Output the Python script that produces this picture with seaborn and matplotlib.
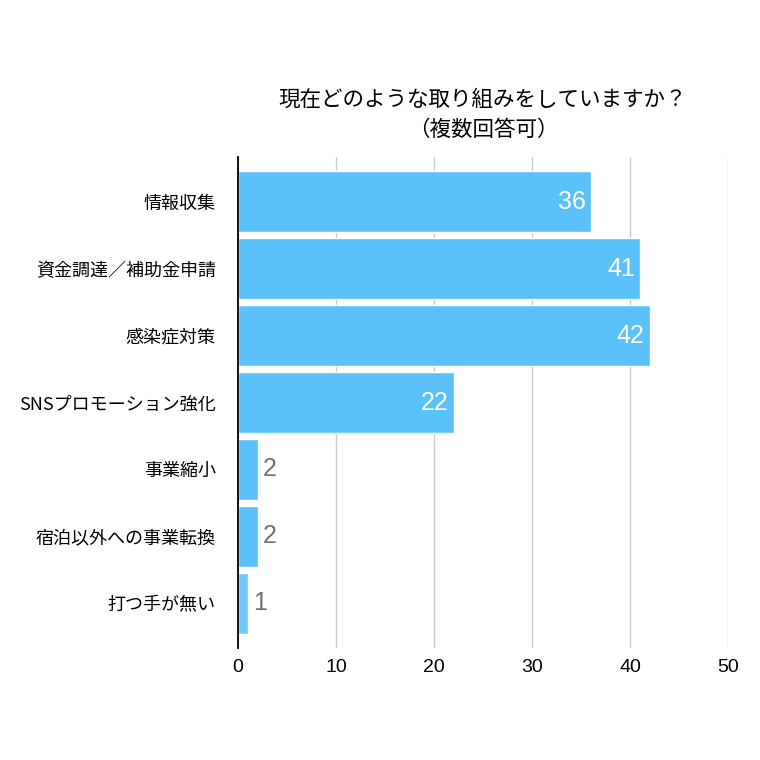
import matplotlib
matplotlib.use("Agg")
import matplotlib.pyplot as plt
import seaborn as sns
import pandas as pd

categories = ["情報収集", "資金調達／補助金申請", "感染症対策", "SNSプロモーション強化",
              "事業縮小", "宿泊以外への事業転換", "打つ手が無い"]
values = [36, 41, 42, 22, 2, 2, 1]
bar_colors = ["#5BC1FA", "#5BC1FA", "#5BC1FA", "#5BC1FA", "#5BC1FA", "#5BC1FA", "#70CAFB"]
title = "現在どのような取り組みをしていますか？\n（複数回答可）"

sns.set_theme(style="white")
plt.rcParams['font.family'] = ['Noto Sans CJK JP', 'DejaVu Sans']
num_font = ['Liberation Sans', 'DejaVu Sans']

df = pd.DataFrame({"cat": categories, "val": values})

fig = plt.figure(figsize=(7.6, 7.6), dpi=100)
ax = fig.add_axes([238/760, 1-648/760, (728-238)/760, (648-157)/760])

sns.barplot(data=df, y="cat", x="val", hue="cat", palette=bar_colors, legend=False,
            orient="h", width=0.91, saturation=1, ax=ax, zorder=3)

ax.set_xlim(0, 50)
ax.set_ylim(6.67, -0.67)
ax.set_xticks([0, 10, 20, 30, 40, 50])
ax.xaxis.grid(True, color="#CCCCCC", linewidth=1, zorder=0)
ax.yaxis.grid(False)
for s in ["top", "right", "bottom"]:
    ax.spines[s].set_visible(False)
ax.spines["left"].set_color("black")
ax.spines["left"].set_linewidth(1.3)
ax.spines["left"].set_zorder(5)
ax.set_xlabel("")
ax.set_ylabel("")
ax.tick_params(axis="x", length=0, pad=8, labelsize=14, colors="black")
ax.tick_params(axis="y", length=0, pad=16, labelsize=13, colors="black")
for lbl in ax.get_xticklabels():
    lbl.set_family(num_font)

for i, v in enumerate(values):
    if v >= 10:
        ax.text(v - 0.5, i, str(v), ha="right", va="center", color="white",
                fontsize=18, family=num_font, zorder=6)
    else:
        ax.text(v + 0.5, i, str(v), ha="left", va="center", color="#707070",
                fontsize=18, family=num_font, zorder=6)

fig.text(483/760, 1-115/760, title, ha="center", va="center", fontsize=15.5,
         linespacing=1.45, color="black")

fig.savefig("out.png", dpi=100, facecolor="white")
